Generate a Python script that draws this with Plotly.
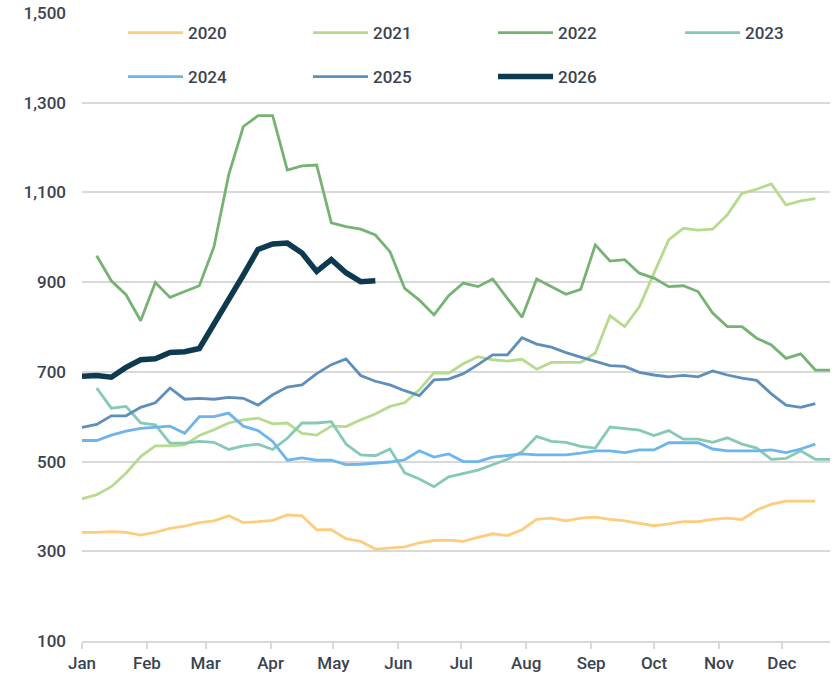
import pandas as pd
import plotly.graph_objects as go

# Weekly index (week 0 = first week of January); reference year used only for the date axis
week_dates = pd.date_range("2022-01-01", periods=52, freq="7D")

years = ["2020", "2021", "2022", "2023", "2024", "2025", "2026"]

s2020 = [342, 342, 344, 342, 336, 342, 351, 356, 364, 368, 379, 364, 366, 369, 381, 379, 348, 348,
         328, 322, 305, 307, 310, 319, 324, 325, 322, 331, 339, 335, 348, 371, 374, 368, 374, 376,
         371, 368, 362, 357, 361, 366, 366, 371, 374, 371, 392, 405, 412, 412, 412]
s2021 = [417, 426, 444, 474, 511, 535, 535, 537, 558, 571, 586, 593, 597, 584, 586, 563, 559, 579,
         578, 593, 606, 623, 631, 660, 698, 697, 718, 734, 727, 724, 728, 706, 721, 721, 721, 742,
         825, 801, 845, 920, 994, 1020, 1016, 1018, 1050, 1098, 1107, 1119, 1072, 1081, 1086]
s2022 = [None, 959, 903, 872, 814, 899, 866, 879, 892, 979, 1139, 1247, 1271, 1271, 1150, 1159,
         1161, 1032, 1024, 1018, 1005, 968, 886, 860, 827, 870, 898, 890, 907, 864, 822, 907, 890,
         873, 884, 983, 947, 950, 920, 909, 890, 892, 879, 831, 801, 801, 775, 760, 730, 740, 704, 704]
s2023 = [None, 664, 619, 623, 586, 582, 541, 541, 545, 543, 527, 535, 539, 527, 552, 586, 586, 589,
         539, 515, 513, 528, 475, 461, 444, 466, 474, 481, 493, 505, 522, 556, 545, 543, 534, 530,
         577, 574, 570, 558, 569, 550, 550, 543, 553, 539, 530, 505, 507, 524, 505, 505]
s2024 = [547, 547, 559, 568, 574, 576, 579, 563, 600, 600, 608, 579, 569, 545, 503, 508, 503, 503,
         493, 494, 496, 499, 504, 524, 510, 517, 500, 500, 510, 513, 517, 515, 515, 515, 519, 524,
         524, 520, 526, 526, 542, 542, 542, 528, 524, 524, 524, 526, 520, 528, 539]
s2025 = [576, 583, 602, 602, 621, 631, 664, 639, 641, 639, 643, 641, 626, 649, 666, 671, 696, 716,
         729, 692, 679, 671, 658, 647, 682, 684, 696, 716, 738, 738, 776, 762, 755, 743, 733, 723,
         714, 712, 699, 693, 689, 692, 689, 702, 693, 686, 681, 651, 626, 621, 629]
s2026 = [690, 692, 688, 710, 727, 729, 743, 745, 752, 805, 858, 916, 973, 985, 987, 965, 924, 950,
         921, 901, 903]

series = [s2020, s2021, s2022, s2023, s2024, s2025, s2026]
colors = ["#FDCD7E", "#B7DB8E", "#76B373", "#86C9B4", "#6DB5EA", "#5D8FBA", "#0E3A4F"]
widths = [2.8, 2.8, 2.8, 2.8, 2.8, 2.8, 5.5]

y_ticks = [100, 300, 500, 700, 900, 1100, 1300, 1500]

# legend grid: 4 columns, 2 rows (column, row) for each year
legend_cells = [(0, 0), (1, 0), (2, 0), (3, 0), (0, 1), (1, 1), (2, 1)]
col_x = [123, 308, 493, 680]   # page pixels
row_y = [33, 77]

W, H = 835, 677
ML, MR, MT, MB = 82, 5, 13, 36
PW, PH = W - ML - MR, H - MT - MB
label_font = dict(family="Roboto, Arial, sans-serif", size=17, color="#3B4350", weight=500)

fig = go.Figure()
legend_layout = {}
for k, (name, vals, col, w, cell) in enumerate(zip(years, series, colors, widths, legend_cells)):
    key = "legend" if k == 0 else f"legend{k + 1}"
    fig.add_trace(go.Scatter(
        x=week_dates[:len(vals)], y=vals, name=name, mode="lines",
        line=dict(color=col, width=w), connectgaps=False, legend=key,
    ))
    cx, cy = cell
    legend_layout[key] = dict(
        orientation="h", xref="paper", yref="paper",
        x=(col_x[cx] - ML) / PW, y=(H - MB - row_y[cy]) / PH,
        xanchor="left", yanchor="middle",
        font=label_font, bgcolor="rgba(0,0,0,0)", borderwidth=0, itemwidth=55,
    )

fig.update_layout(
    width=W, height=H,
    margin=dict(l=ML, r=MR, t=MT, b=MB, autoexpand=False),
    paper_bgcolor="white", plot_bgcolor="white",
    showlegend=True,
    xaxis=dict(
        type="date",
        range=["2022-01-01", "2022-12-24"],
        dtick="M1", tick0="2022-01-01", tickformat="%b",
        showgrid=False, showline=True, linecolor="#D9D9D9", linewidth=2,
        ticks="outside", ticklen=6, tickwidth=2, tickcolor="#D9D9D9",
        tickfont=label_font, zeroline=False,
    ),
    yaxis=dict(
        range=[100, 1500], tickvals=y_ticks,
        tickformat=",d", showgrid=True, gridcolor="#D9D9D9", gridwidth=2,
        zeroline=False, showline=False, tickfont=label_font,
        ticklabelstandoff=15,
    ),
    **legend_layout,
)

fig.write_html("out.html", config={"displayModeBar": False},
               post_script="document.body.style.margin='0px';")
